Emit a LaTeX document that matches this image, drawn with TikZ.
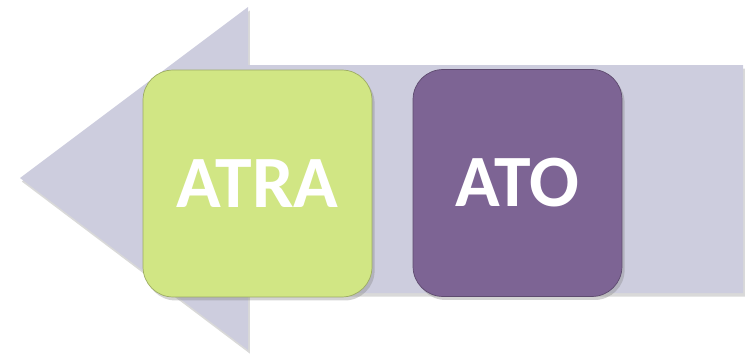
\documentclass[tikz,border=0pt]{standalone}
\usepackage{fontspec}
\setmainfont{Carlito}
\usepackage{xcolor}
\usetikzlibrary{shadows,positioning}
\definecolor{arrowgrey}{HTML}{CDCDDE}
\definecolor{atragreen}{HTML}{D1E684}
\definecolor{atopurple}{HTML}{7D6494}
\tikzset{%
	bigarrow/.style = {fill=arrowgrey, drop shadow={shadow xshift=1pt, shadow yshift=-2pt, opacity=.3}},
	stepbox/.style  = {rectangle, rounded corners=0.6cm, minimum height=4.54cm, text=white, font=\fontsize{42}{42}\selectfont\bfseries, text centered, drop shadow={shadow xshift=1.5pt, shadow yshift=-2pt, opacity=.35}},
}
\begin{document}
\begin{tikzpicture}[x=0.02cm, y=-0.02cm]
		\useasboundingbox (0,0) rectangle (745,355);
		% big arrow pointing left
		\fill[bigarrow] (20,178) -- (248,7) -- (248,65) -- (743,65) -- (743,293) -- (248,293) -- (248,350) -- cycle;
		% the two steps
		\node[stepbox, fill=atragreen, draw=atragreen!75!black, minimum width=4.58cm] (atra) at (257.5,183.5) {ATRA};
		\node[stepbox, fill=atopurple, draw=atopurple!75!black, minimum width=4.18cm] (ato) at (517.5,183) {ATO};
	\end{tikzpicture}
\end{document}
